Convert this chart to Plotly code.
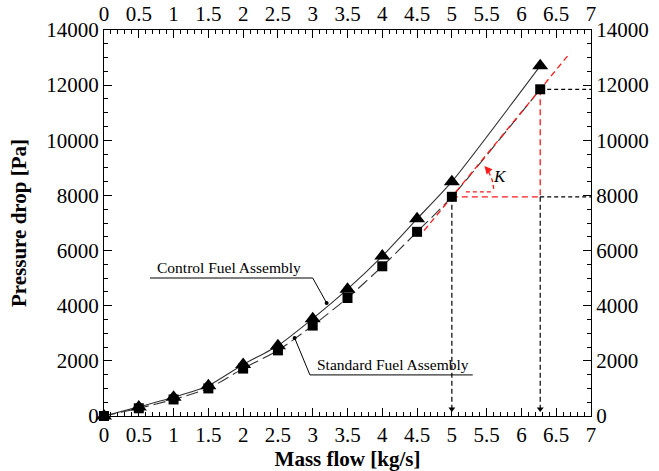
import numpy as np
import plotly.graph_objects as go

# Mass flow [kg/s] and measured pressure drop [Pa]
mass_flow = [0, 0.5, 1, 1.5, 2, 2.5, 3, 3.5, 4, 4.5, 5, 6.27]
dp_control = [0, 330, 680, 1100, 1870, 2550, 3530, 4600, 5800, 7150, 8500, 12700]
dp_standard = [0, 280, 600, 1000, 1720, 2380, 3280, 4280, 5430, 6680, 7950, 11850]

x_ticks = [0, 0.5, 1, 1.5, 2, 2.5, 3, 3.5, 4, 4.5, 5, 5.5, 6, 6.5, 7]
y_ticks = [0, 2000, 4000, 6000, 8000, 10000, 12000, 14000]

FONT = "Liberation Serif"
RED = "#ff1a1a"

fig = go.Figure()

# Fitted curves
fig.add_trace(go.Scatter(x=mass_flow, y=dp_control, mode="lines",
                         line=dict(color="#333333", width=1.1, shape="spline", smoothing=0.6),
                         showlegend=False, hoverinfo="skip"))
fig.add_trace(go.Scatter(x=mass_flow, y=dp_standard, mode="lines",
                         line=dict(color="#333333", width=1.1, dash="12px,5px", shape="spline", smoothing=0.6),
                         showlegend=False, hoverinfo="skip"))

# Tangent (slope K) through the two operating points of the standard assembly
x1, y1 = mass_flow[10], dp_standard[10]
x2, y2 = mass_flow[11], dp_standard[11]
K = (y2 - y1) / (x2 - x1)
xt = np.array([4.6, 6.7])
fig.add_trace(go.Scatter(x=xt, y=y1 + K * (xt - x1), mode="lines",
                         line=dict(color=RED, width=1.3, dash="6px,4px"),
                         showlegend=False, hoverinfo="skip"))
# red horizontal and vertical legs of the slope triangle
fig.add_trace(go.Scatter(x=[x1, x2, x2], y=[y1, y1, y2], mode="lines",
                         line=dict(color=RED, width=1.3, dash="6px,4px"),
                         showlegend=False, hoverinfo="skip"))

# black reference guides to the axes
fig.add_trace(go.Scatter(x=[x2, 7.0], y=[y2, y2], mode="lines",
                         line=dict(color="black", width=1.2, dash="4px,3px"),
                         showlegend=False, hoverinfo="skip"))
fig.add_trace(go.Scatter(x=[x2, 7.0], y=[y1, y1], mode="lines",
                         line=dict(color="black", width=1.2, dash="4px,3px"),
                         showlegend=False, hoverinfo="skip"))
for xv in (x1, x2):
    fig.add_trace(go.Scatter(x=[xv, xv], y=[y1, 250], mode="lines",
                             line=dict(color="black", width=1.2, dash="5px,3px"),
                             showlegend=False, hoverinfo="skip"))
    fig.add_trace(go.Scatter(x=[xv], y=[250], mode="markers",
                             marker=dict(symbol="triangle-down", size=6, color="black"),
                             showlegend=False, hoverinfo="skip"))

# angle arc marking K (pixel scale: 69.6 px per kg/s, 0.02757 px per Pa)
px_x, px_y = 69.6, 0.02757
r = 42
ang = np.radians(np.linspace(4, 36, 20))
arc_x = x1 + r * np.cos(ang) / px_x
arc_y = y1 + 180 + r * np.sin(ang) / px_y
fig.add_trace(go.Scatter(x=arc_x, y=arc_y, mode="lines",
                         line=dict(color=RED, width=1.3, dash="4px,3px"),
                         showlegend=False, hoverinfo="skip"))
fig.add_trace(go.Scatter(x=[x1 + 14 / px_x, x1 + 42 / px_x], y=[y1 + 180, y1 + 180], mode="lines",
                         line=dict(color=RED, width=1.3, dash="4px,3px"),
                         showlegend=False, hoverinfo="skip"))
fig.add_annotation(x=arc_x[-1] - 0.02, y=arc_y[-1] + 40, ax=arc_x[-3], ay=arc_y[-3],
                   xref="x", yref="y", axref="x", ayref="y", text="",
                   showarrow=True, arrowhead=2, arrowsize=1.2, arrowwidth=1.3, arrowcolor=RED)
fig.add_annotation(x=5.69, y=8670, text="<i>K</i>", showarrow=False,
                   font=dict(family=FONT, size=17, color="black"))

# data markers
fig.add_trace(go.Scatter(x=mass_flow, y=dp_control, mode="markers", cliponaxis=False,
                         marker=dict(symbol="triangle-up", size=14, color="black"),
                         showlegend=False, name="Control Fuel Assembly"))
fig.add_trace(go.Scatter(x=mass_flow, y=dp_standard, mode="markers", cliponaxis=False,
                         marker=dict(symbol="square", size=10, color="black"),
                         showlegend=False, name="Standard Fuel Assembly"))

# leader lines for the curve labels
fig.add_trace(go.Scatter(x=[0.66, 3.0, 3.2], y=[5005, 5005, 4100], mode="lines",
                         line=dict(color="black", width=1), showlegend=False, hoverinfo="skip"))
fig.add_trace(go.Scatter(x=[3.2], y=[4100], mode="markers",
                         marker=dict(symbol="circle", size=4, color="black"),
                         showlegend=False, hoverinfo="skip"))
fig.add_trace(go.Scatter(x=[2.74, 2.96, 5.3], y=[2830, 1490, 1490], mode="lines",
                         line=dict(color="black", width=1), showlegend=False, hoverinfo="skip"))
fig.add_trace(go.Scatter(x=[2.74], y=[2830], mode="markers",
                         marker=dict(symbol="circle", size=4, color="black"),
                         showlegend=False, hoverinfo="skip"))
fig.add_annotation(x=1.8, y=5390, text="Control Fuel Assembly", showarrow=False,
                   font=dict(family=FONT, size=15.5, color="black"))
fig.add_annotation(x=4.15, y=1870, text="Standard Fuel Assembly", showarrow=False,
                   font=dict(family=FONT, size=15.5, color="black"))

# invisible trace to carry the mirrored top/right axes
fig.add_trace(go.Scatter(x=[0], y=[0], xaxis="x2", yaxis="y2", mode="markers",
                         marker=dict(opacity=0), showlegend=False, hoverinfo="skip"))

tickfont = dict(family=FONT, size=21, color="black")
common_x = dict(range=[0, 7], tickvals=x_ticks, ticktext=[f"{v:g}" for v in x_ticks],
                ticks="inside", ticklen=8, tickcolor="black", tickwidth=1,
                minor=dict(dtick=0.1, ticks="inside", ticklen=4, tickcolor="black"),
                showgrid=False, zeroline=False, tickfont=tickfont, automargin=False,
                showline=True, linecolor="black", linewidth=1.2)
common_y = dict(range=[0, 14000], tickvals=y_ticks, ticktext=[str(v) for v in y_ticks],
                ticks="inside", ticklen=8, tickcolor="black", tickwidth=1,
                minor=dict(dtick=500, ticks="inside", ticklen=4, tickcolor="black"),
                showgrid=False, zeroline=False, tickfont=tickfont, automargin=False,
                showline=True, linecolor="black", linewidth=1.2)

fig.update_layout(
    width=659, height=471,
    margin=dict(l=104, r=68, t=30, b=55),
    plot_bgcolor="white", paper_bgcolor="white",
    font=dict(family=FONT, color="black"),
    xaxis=dict(**common_x, title=dict(text="<b>Mass flow [kg/s]</b>",
                                       font=dict(family=FONT, size=21), standoff=2)),
    yaxis=dict(**common_y, title=dict(text="<b>Pressure drop [Pa]</b>",
                                       font=dict(family=FONT, size=21), standoff=13)),
    xaxis2=dict(**common_x, overlaying="x", side="top", anchor="y2"),
    yaxis2=dict(**common_y, overlaying="y", side="right", anchor="x2"),
)

fig.write_html("out.html")
